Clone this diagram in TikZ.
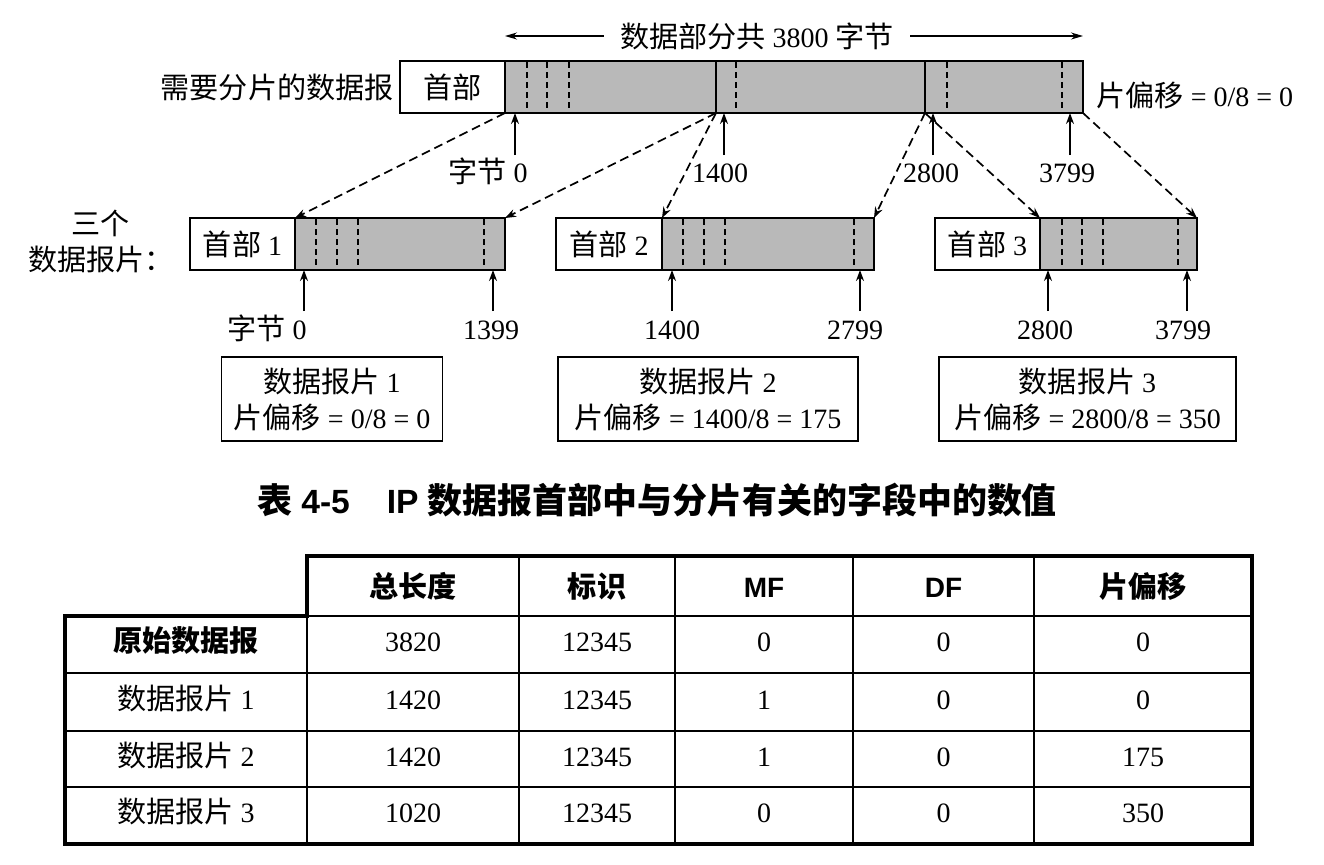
\documentclass[tikz,border=0pt]{standalone}
\usepackage{fontspec}
\setmainfont{Liberation Serif}
\setsansfont{Liberation Sans}
\newfontfamily\cjk[Scale=1.04]{Noto Sans CJK SC}
\newcommand{\zh}[1]{{\cjk #1}}
\usetikzlibrary{arrows.meta,positioning}

\begin{document}
\begin{tikzpicture}[x=0.5pt, y=-0.5pt,
  font=\fontsize{14}{18}\selectfont,
  hdr/.style={rectangle, draw, fill=white, line width=0.9pt, outer sep=0pt, inner sep=0pt, minimum width=52.5pt, minimum height=26pt, anchor=north west},
  dat/.style={rectangle, draw, fill=gray!55, line width=0.9pt, outer sep=0pt, minimum height=26pt},
  divider/.style={line width=0.9pt, dash pattern=on 3pt off 2pt},
  cutarr/.style={-{Stealth[length=5.5pt,width=4pt]}, line width=0.85pt, dash pattern=on 4.5pt off 2.5pt},
  uparr/.style={-{Stealth[length=5.5pt,width=4pt]}, line width=0.8pt},
  arr/.style={-{Stealth[length=6pt,width=3.5pt]}, line width=0.6pt},
  info/.style={rectangle, draw, line width=0.8pt, minimum height=42pt, align=center},
  cell/.style={text height=10pt, text depth=3pt},
  tline/.style={line width=0.9pt},
  tbox/.style={line width=1.6pt}
]
\useasboundingbox (0,0) rectangle (1324,864);

\node[hdr, line width=1.4pt] (h0) at (400,61) {\zh{首部}};
\node[dat, line width=1.4pt, minimum width=289pt, right=0pt of h0] (d0) {};
\node[hdr] (h1) at (190,218) {\zh{首部} 1};
\node[dat, minimum width=105pt, right=0pt of h1] (d1) {};
\node[hdr, minimum width=53pt] (h2) at (556,218) {\zh{首部} 2};
\node[dat, minimum width=106pt, right=0pt of h2] (d2) {};
\node[hdr] (h3) at (935,218) {\zh{首部} 3};
\node[dat, minimum width=78.5pt, right=0pt of h3] (d3) {};

\coordinate (b1) at (716,113);
\coordinate (b2) at (925,113);
\draw[line width=0.8pt] (b1) -- (b1 |- d0.north) (b2) -- (b2 |- d0.north);
\foreach \x in {527,547,569,736,947,1062} \draw[divider] (\x,62) -- (\x,112);
\foreach \x in {316,337,358,484,683,704,725,854,1062,1082,1103,1178} \draw[divider] (\x,219) -- (\x,269);

\node[inner sep=1pt, left=2pt of h0] (whole) {\zh{需要分片的数据报}};
\node[inner sep=1pt, right=5.5pt of d0, yshift=-4pt] (off0) {\zh{片偏移} = 0/8 = 0};
\node[inner sep=8pt] (total) at (757,36) {\zh{数据部分共} 3800 \zh{字节}};
\draw[arr] (total.west) -- (total.west -| d0.west);
\draw[arr] (total.east) -- (total.east -| d0.east);

\foreach \x [count=\i] in {515,724,933,1070} {
  \coordinate (m\i) at (\x,155);
  \draw[uparr] (m\i) -- (m\i |- d0.south);
}
\foreach \x/\f [count=\i] in {304/d1,493/d1,672/d2,860/d2,1048/d3,1187/d3} {
  \coordinate (q\i) at (\x,311);
  \draw[uparr] (q\i) -- (q\i |- \f.south);
}

\node[anchor=base] (l0) at (488,182) {\zh{字节} 0};
\node[anchor=base] (l1) at (720,182) {1400};
\node[anchor=base] (l2) at (931,182) {2800};
\node[anchor=base] (l3) at (1067,182) {3799};
\node[anchor=base] (k0) at (267,339) {\zh{字节} 0};
\node[anchor=base] (k1) at (491,339) {1399};
\node[anchor=base] (k2) at (672,339) {1400};
\node[anchor=base] (k3) at (855,339) {2799};
\node[anchor=base] (k4) at (1045,339) {2800};
\node[anchor=base] (k5) at (1183,339) {3799};

\draw[cutarr] (d0.south west) -- (d1.north west);
\draw[cutarr] (b1) -- (d1.north east);
\draw[cutarr] (b1) -- (d2.north west);
\draw[cutarr] (b2) -- (d2.north east);
\draw[cutarr] (b2) -- (d3.north west);
\draw[cutarr] (d0.south east) -- (d3.north east);

\node[align=center] (three) at (101,241) {\zh{三个}\\\zh{数据报片：}};

\node[info, minimum width=110.5pt] (f1) at (332,399) {\zh{数据报片} 1\\\zh{片偏移} = 0/8 = 0};
\node[info, minimum width=150pt] (f2) at (708,399) {\zh{数据报片} 2\\\zh{片偏移} = 1400/8 = 175};
\node[info, minimum width=148.5pt] (f3) at (1087.5,399) {\zh{数据报片} 3\\\zh{片偏移} = 2800/8 = 350};

\node (cap) at (657,500) {\fontsize{16.8}{20}\selectfont\sffamily\bfseries \zh{表} 4-5\hspace{1.1em}IP \zh{数据报首部中与分片有关的字段中的数值}};

\draw[tline] (307,616) -- (1252,616);
\foreach \y in {673,731,787} \draw[tline] (65,\y) -- (1252,\y);
\foreach \x in {519,675,853,1034} \draw[tline] (\x,556) -- (\x,844);
\draw[tline] (307,616) -- (307,844);
\draw[tbox] (307,556) -- (1252,556) -- (1252,844) -- (65,844) -- (65,616) -- (307,616) -- cycle;

\foreach \x/\t in {413/\zh{总长度}, 597/\zh{标识}, 764/MF, 943.5/DF, 1143/\zh{片偏移}}
  \node[cell] at (\x,590) {\sffamily\bfseries \t};
\node[cell] (orig) at (186,644) {\bfseries\zh{原始数据报}};
\foreach \y/\n in {702/1, 759/2, 815/3}
  \node[cell] at (186,\y) {\zh{数据报片} \n};
\foreach \y/\a/\b/\c/\d/\e in {644/3820/12345/0/0/0, 702/1420/12345/1/0/0, 759/1420/12345/1/0/175, 815/1020/12345/0/0/350} {
  \node[cell] at (413,\y) {\a};
  \node[cell] at (597,\y) {\b};
  \node[cell] at (764,\y) {\c};
  \node[cell] at (943.5,\y) {\d};
  \node[cell] at (1143,\y) {\e};
}
\end{tikzpicture}
\end{document}
